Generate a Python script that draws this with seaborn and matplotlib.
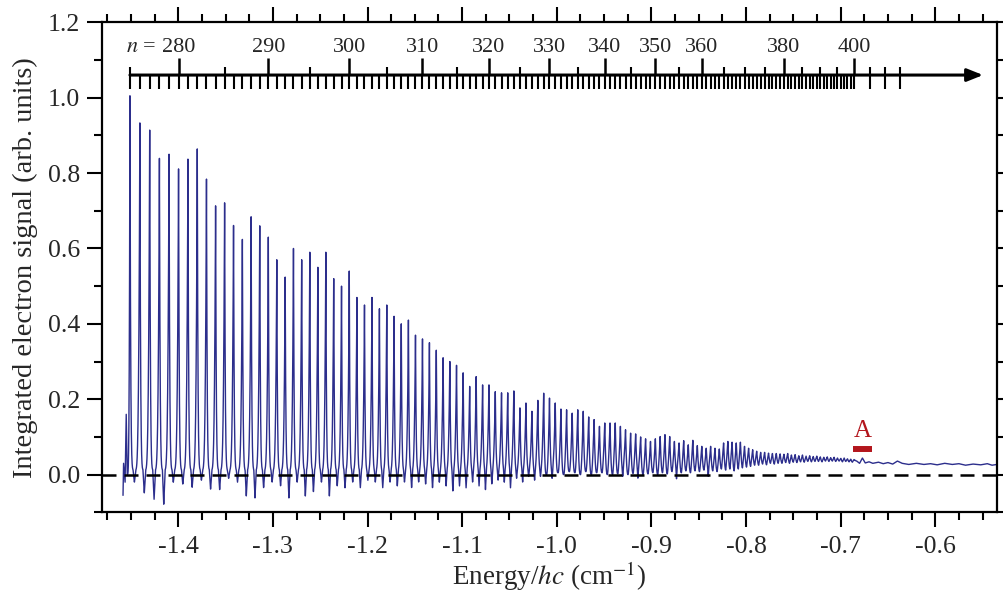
import numpy as np
import matplotlib
matplotlib.use("Agg")
import matplotlib.pyplot as plt
from matplotlib.ticker import MultipleLocator, FormatStrFormatter
import seaborn as sns

# Rydberg constant (cm^-1), ladder positions are -R/n^2
R = 109737.316

# peak heights, one per n = 275 ... 400
n_peak = np.arange(275, 401)
peak_h = [
    1.005, 0.933, 0.914, 0.839, 0.850, 0.811, 0.837, 0.864, 0.784, 0.713,
    0.721, 0.661, 0.624, 0.684, 0.660, 0.630, 0.570, 0.524, 0.600, 0.570,
    0.590, 0.550, 0.590, 0.520, 0.500, 0.540, 0.470, 0.450, 0.470, 0.440,
    0.450, 0.420, 0.400, 0.410, 0.370, 0.360, 0.350, 0.330, 0.310, 0.300,
    0.290, 0.270, 0.234, 0.260, 0.238, 0.238, 0.220, 0.217, 0.217, 0.222,
    0.177, 0.190, 0.168, 0.197, 0.216, 0.203, 0.190, 0.174, 0.172, 0.163,
    0.172, 0.168, 0.153, 0.146, 0.128, 0.137, 0.137, 0.137, 0.128, 0.119,
    0.110, 0.108, 0.100, 0.095, 0.088, 0.095, 0.101, 0.106, 0.101, 0.088,
    0.084, 0.090, 0.079, 0.091, 0.077, 0.075, 0.070, 0.075, 0.070, 0.068,
    0.084, 0.088, 0.086, 0.084, 0.086, 0.075, 0.070, 0.066, 0.062, 0.059,
    0.059, 0.057, 0.056, 0.056, 0.055, 0.054, 0.056, 0.052, 0.053, 0.050,
    0.052, 0.049, 0.050, 0.048, 0.049, 0.047, 0.046, 0.047, 0.045, 0.046,
    0.044, 0.043, 0.044, 0.042, 0.041, 0.040,
]
# lowest signal in the gap after each peak
trough = [
    -0.020, -0.049, -0.066, -0.079, -0.020, -0.025, -0.034, -0.015, -0.039, -0.040,
    -0.010, -0.020, -0.057, -0.062, -0.035, -0.020, -0.030, -0.062, -0.020, -0.057,
    -0.045, -0.020, -0.057, -0.030, -0.035, -0.020, -0.035, -0.015, -0.020, -0.035,
    -0.020, -0.030, -0.020, -0.035, -0.020, -0.025, -0.035, -0.020, -0.030, -0.044,
    -0.030, -0.035, -0.020, -0.030, -0.040, -0.025, -0.015, -0.020, -0.035, -0.010,
    -0.020, -0.005, -0.015, -0.005, 0.000, -0.010, 0.005, 0.000, 0.008, 0.005,
    0.000, 0.008, 0.000, 0.005, 0.005, 0.000, 0.000, 0.002, -0.005, 0.000,
    0.003, -0.010, 0.000, 0.002, 0.005, 0.000, 0.005, 0.002, 0.008, -0.012,
    0.005, 0.010, 0.005, 0.010, 0.008, 0.012, -0.005, 0.010, 0.008, 0.015,
    0.012, 0.015, 0.010, 0.015, 0.018, 0.020, 0.022, 0.025, 0.025, 0.028,
    0.026, 0.030, 0.028, 0.030, 0.030, 0.032, 0.030, 0.033, 0.032, 0.034,
    0.033, 0.035, 0.034, 0.035, 0.035, 0.034, 0.036, 0.035, 0.036, 0.035,
    0.036, 0.034, 0.035, 0.034, 0.033, 0.032,
]
# typical level of the noisy band between the sharp lines at low n
gap_level = 0.012
# start of the trace, before the n = 275 line
lead_E = [-1.4584, -1.4578, -1.4562, -1.4550, -1.4540]
lead_y = [-0.055, 0.030, -0.020, 0.160, 0.000]
# flat tail above n = 400
tail_E = [-0.6830, -0.6800, -0.6770, -0.6740, -0.6700, -0.6660, -0.6600, -0.6550,
          -0.6500, -0.6450, -0.6400, -0.6350, -0.6280, -0.6200, -0.6120, -0.6050,
          -0.5980, -0.5900, -0.5820, -0.5750, -0.5680, -0.5600, -0.5520, -0.5450,
          -0.5400, -0.5348]
tail_y = [0.036, 0.030, 0.044, 0.031, 0.034, 0.030, 0.033, 0.029,
          0.032, 0.028, 0.036, 0.030, 0.027, 0.030, 0.027, 0.029,
          0.026, 0.030, 0.027, 0.029, 0.025, 0.028, 0.026, 0.029,
          0.025, 0.027]

# n ladder
ladder_minor = list(range(275, 401)) + [405, 410, 415]
ladder_mid = [275, 285, 295, 305, 315, 325, 335, 345, 355, 365, 370, 375,
              385, 390, 395, 405, 410, 415]
ladder_major = [280, 290, 300, 310, 320, 330, 340, 350, 360, 380, 400]

# ---- build the trace: sharp lines on top of the gap level ----
E_pk = -R / n_peak.astype(float) ** 2
h = np.array(peak_h)
f = np.array(trough)
band = np.where(f < 0, gap_level, f)
# line sharpness: narrow spikes at low n, broader near the limit
p_fall = np.interp(n_peak, [275, 300, 320, 340, 370, 400], [7, 6, 4, 2.6, 1.8, 1.5])
p_rise = 0.6 * p_fall


def shape(d, half, p):
    return np.clip(1.0 - d / half, 0, 1) ** p


step = 0.00004
E = np.union1d(np.arange(lead_E[-1], E_pk[-1], step), E_pk)
y = np.empty_like(E)
# left side of the first line
m = E < E_pk[0]
y[m] = lead_y[-1] + (h[0] - lead_y[-1]) * shape(E_pk[0] - E[m], E_pk[0] - lead_E[-1], p_rise[0])
# between lines: band level with a narrow dip to the trough value
m = E >= E_pk[0]
idx = np.clip(np.searchsorted(E_pk, E[m]), 1, len(E_pk) - 1)
left = idx - 1
gap = E_pk[idx] - E_pk[left]
dl = E[m] - E_pk[left]
dr = E_pk[idx] - E[m]
t = dl / gap
dip = np.clip(1 - np.abs(t - 0.45) / 0.14, 0, 1)
floor = band[left] + (f[left] - band[left]) * dip
on_left = dl < dr
near = np.where(on_left, left, idx)
p = np.where(on_left, p_fall[left], p_rise[idx])
d = np.minimum(dl, dr)
y[m] = floor + (h[near] - floor) * shape(d, gap / 2, p)
# right side of the last line into the tail
E2 = np.arange(E_pk[-1], tail_E[0], step)
y2 = tail_y[0] + (h[-1] - tail_y[0]) * shape(E2 - E_pk[-1], tail_E[0] - E_pk[-1], p_fall[-1])

x_all = np.concatenate([lead_E[:-1], E, E2[1:], tail_E])
y_all = np.concatenate([lead_y[:-1], y, y2[1:], tail_y])

# ---- figure ----
sns.set_style("ticks")
plt.rcParams["font.family"] = ["Liberation Serif", "DejaVu Serif"]
plt.rcParams["mathtext.fontset"] = "stix"
plt.rcParams["axes.unicode_minus"] = False

fig = plt.figure(figsize=(10.04, 5.99), dpi=100)
ax = fig.add_axes([0.1016, 0.1447, 0.8914, 0.8181])

sns.lineplot(x=x_all, y=y_all, ax=ax, estimator=None, sort=False,
             color="#2c2e8c", lw=1.0, zorder=2)
ax.axhline(0, color="black", lw=1.8, dashes=(5.6, 3.2), zorder=3)

# ladder
yl = 1.06
E_minor = -R / np.array(ladder_minor, float) ** 2
E_mid = -R / np.array(ladder_mid, float) ** 2
E_major = -R / np.array(ladder_major, float) ** 2
ax.vlines(E_minor, 1.024, yl, color="black", lw=1.5)
ax.vlines(E_mid, yl, 1.082, color="black", lw=1.5)
ax.vlines(E_major, yl, 1.104, color="black", lw=1.8)
ax.annotate("", xy=(-0.5495, yl), xytext=(E_minor[0], yl),
            arrowprops=dict(arrowstyle="-|>,head_length=0.8,head_width=0.32",
                            lw=2.2, color="black", shrinkA=0, shrinkB=0,
                            mutation_scale=12))
for n, e in zip(ladder_major, E_major):
    ax.text(e, 1.12, str(n), ha="center", va="baseline", fontsize=16)
ax.annotate("$n$ =", xy=(E_major[0], 1.12), xytext=(-16, 0),
            textcoords="offset points", ha="right", va="baseline", fontsize=16)

# marker A
ax.hlines(0.067, -0.687, -0.667, color="#b3161d", lw=4.3)
ax.text(-0.677, 0.10, "A", color="#b3161d", ha="center", va="baseline", fontsize=18)

ax.set_xlim(-1.4806, -0.5348)
ax.set_ylim(-0.1, 1.2)
ax.xaxis.set_major_locator(MultipleLocator(0.1))
ax.xaxis.set_minor_locator(MultipleLocator(0.025))
ax.yaxis.set_major_locator(MultipleLocator(0.2))
ax.yaxis.set_minor_locator(MultipleLocator(0.1))
ax.xaxis.set_major_formatter(FormatStrFormatter("%.1f"))
ax.yaxis.set_major_formatter(FormatStrFormatter("%.1f"))
ax.tick_params(which="both", direction="out", top=True, right=True,
               width=1.5, labelsize=18.5, color="black")
ax.tick_params(axis="x", which="major", length=11, pad=6)
ax.tick_params(axis="y", which="major", length=11, pad=5)
ax.tick_params(which="minor", length=5.5)
for s in ax.spines.values():
    s.set_linewidth(1.6)
    s.set_color("black")

ax.set_xlabel("Energy/$hc$ (cm$^{-1}$)", fontsize=19.5, labelpad=1)
ax.set_ylabel("Integrated electron signal (arb. units)", fontsize=20.5, labelpad=7)

fig.savefig("out.png", dpi=100)
